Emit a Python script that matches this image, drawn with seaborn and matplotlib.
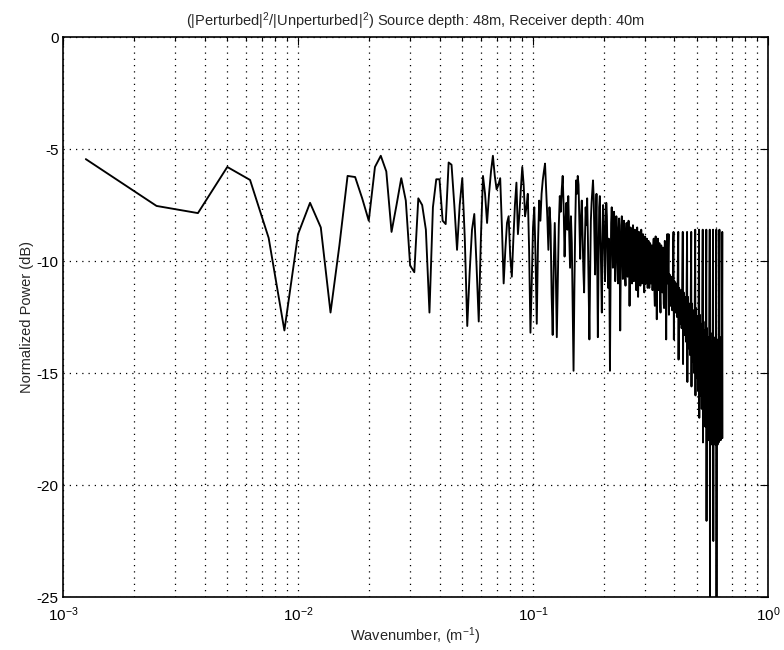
import matplotlib
matplotlib.use('Agg')
import matplotlib.pyplot as plt
import numpy as np
import pandas as pd
import seaborn as sns

# wavenumber grid step (m^-1), samples start at one step
dk = 1.25e-3

# normalized power (dB)
power_low = [
    -5.45, -7.54, -7.86, -5.80, -6.38, -8.97, -13.1, -8.8, -7.4, -8.5,
    -12.3, -9.3, -6.2, -6.25, -7.2, -8.2, -5.8, -5.3, -6.0, -8.7,
    -7.5, -6.3, -7.3, -10.2, -10.5, -7.2, -7.5, -8.6, -12.3, -7.6,
    -6.35, -6.35, -8.2, -8.35, -5.6, -5.7, -7.5, -9.5, -7.5, -6.3,
    -9.0, -12.9, -10.5, -8.6, -7.9, -10.2, -12.7, -9.0, -6.2, -7.0,
    -8.3, -7.0, -6.0, -5.3, -6.2, -6.8, -6.6, -6.3, -8.5, -11.0,
    -9.5, -8.3, -8.0, -9.8, -10.7, -9.0, -7.5, -6.5,
]
power_mid = [
    -8.8, -7.9, -6.8, -5.8, -6.6, -8.0, -7.6, -7.0, -9.5, -13.2,
    -11.0, -8.5, -7.6, -9.8, -12.8, -9.2, -7.3, -8.2, -7.0, -6.4,
    -6.0, -5.65, -6.8, -8.0, -9.5, -7.6, -8.4, -11.5, -13.3, -10.2,
    -8.3, -10.5, -13.4, -10.8, -8.4, -7.1, -7.8, -6.8, -6.2, -7.6,
    -9.8, -8.2, -7.4, -8.6, -7.1, -8.8, -10.3, -8.0, -9.2, -12.0,
    -14.9, -11.2, -8.4, -6.4, -7.0, -6.2, -6.6, -8.2, -9.9, -8.1,
    -7.3, -8.9, -10.4, -11.4, -9.1, -7.6, -8.4, -7.2, -9.0, -11.3,
    -13.5, -10.6, -8.2, -7.4, -6.9, -6.4,
]
power_band = [
    -7.2, -9.0, -10.6, -8.4, -7.0, -9.8, -13.4, -10.2, -7.6, -7.1, -8.9, -10.8, -12.3, -9.4, -7.5, -8.1,
    -9.6, -10.9, -8.7, -7.4, -8.0, -9.9, -11.2, -9.0, -10.6, -14.9, -11.0, -8.3, -7.6, -8.6, -10.3, -9.1, -7.8, -8.8, -10.9, -9.5,
    -8.0, -8.5, -10.2, -11.0, -9.0, -8.1, -9.6, -13.1, -10.4, -8.4, -8.0, -9.3, -10.8, -9.7, -8.2, -8.9, -10.5, -11.1, -9.2, -8.3,
    -9.4, -10.7, -9.5, -8.2, -9.8, -12.0, -10.3, -8.5, -8.6, -10.1, -11.0, -9.3, -8.4, -9.6, -10.9, -10.0, -8.6, -9.2, -10.6, -11.3,
    -9.5, -8.5, -9.4, -11.6, -10.2, -8.7, -9.1, -10.5, -11.1, -9.4, -8.6, -9.7, -11.0, -10.1, -8.8, -9.3, -10.8, -11.4, -9.8, -8.9,
    -9.6, -11.0, -10.3, -9.0, -9.5, -11.2, -10.4, -9.1, -9.8, -11.2, -10.6, -9.2, -9.6, -11.0, -10.5, -9.3, -9.9, -11.3, -10.7, -9.4,
    -9.0, -10.2, -11.5, -12.0, -10.1, -8.9, -9.7, -11.2, -12.6, -11.0, -9.4, -9.0, -10.3, -11.3, -10.0, -9.2, -10.4, -11.7, -12.3, -10.4,
    -9.3, -9.6, -10.9, -11.4, -10.1, -9.4, -10.5, -11.9, -12.1, -10.2, -9.1, -9.4, -10.8, -11.6, -13.5, -11.0, -9.2, -8.8, -9.6, -11.0,
]
power_comb = [
    -9.4, -8.8, -12.4, -11.2, -10.6, -11.5, -10.9, -12.0, -11.3, -10.7, -11.8, -11.0, -12.2, -11.4, -10.8,
    -9.2, -8.7, -13.5, -11.6, -10.9, -11.9, -11.2, -12.3, -11.5, -11.0, -12.1, -11.3, -12.5, -11.7, -11.1,
    -9.6, -8.7, -14.4, -12.0, -11.2, -12.4, -11.5, -12.8, -11.9, -11.3, -12.6, -11.7, -13.0, -12.1, -11.4,
    -9.8, -8.7, -14.6, -12.3, -11.4, -12.8, -11.8, -13.3, -12.2, -11.6, -13.1, -12.0, -13.6, -12.4, -11.7,
    -10.0, -8.7, -15.4, -12.7, -11.6, -13.2, -12.1, -13.9, -12.6, -11.9, -13.7, -12.4, -14.2, -12.8, -12.0,
    -10.1, -8.7, -15.6, -13.0, -11.9, -13.7, -12.4, -14.5, -13.0, -12.2, -14.3, -12.8, -15.0, -13.2, -12.3,
    -10.3, -8.6, -16.0, -13.4, -12.1, -14.2, -12.7, -15.2, -13.4, -12.5, -15.0, -13.2, -15.8, -13.6, -12.6,
    -10.4, -8.6, -17.0, -13.8, -12.4, -14.8, -13.0, -16.0, -13.9, -12.8, -15.8, -13.6, -16.6, -14.0, -12.9,
    -10.5, -8.6, -18.1, -14.3, -12.7, -15.4, -13.3, -16.8, -14.3, -13.1, -16.5, -14.0, -17.4, -14.4, -13.2,
    -10.6, -8.6, -21.6, -14.7, -13.0, -16.0, -13.6, -17.5, -14.8, -13.4, -17.2, -14.4, -18.0, -14.8, -13.5,
    -10.7, -8.6, -25.5, -15.0, -13.2, -16.5, -13.9, -18.0, -15.1, -13.6, -17.8, -14.7, -18.2, -15.1, -13.7,
    -10.8, -8.6, -22.5, -15.2, -13.4, -16.8, -14.1, -18.1, -15.3, -13.8, -17.9, -14.9, -18.2, -15.2, -13.8,
    -10.8, -8.6, -26.0, -15.3, -13.5, -17.0, -14.2, -18.2, -15.4, -13.9, -18.0, -15.0, -18.1, -15.3, -13.9,
    -10.9, -8.6, -17.9, -15.1, -13.4, -16.8, -14.1, -18.0, -15.2, -13.8, -17.6, -14.8, -17.9, -15.0, -13.7,
    -8.7, -17.9,
]

power = power_low + power_mid + power_band + power_comb
df = pd.DataFrame({'k': dk * np.arange(1, len(power) + 1), 'db': power})

sns.set_style('white')
plt.rcParams['font.family'] = ['Liberation Sans', 'DejaVu Sans']
plt.rcParams['mathtext.fontset'] = 'custom'
plt.rcParams['mathtext.rm'] = 'Liberation Sans'
plt.rcParams['mathtext.it'] = 'Liberation Sans:italic'
plt.rcParams['axes.unicode_minus'] = False

fig = plt.figure(figsize=(7.84, 6.5), dpi=100)
ax = fig.add_axes([0.0804, 0.0815, 0.8992, 0.8615])

sns.lineplot(data=df, x='k', y='db', color='black', lw=1.35,
             estimator=None, sort=False, ax=ax)

ax.set_xscale('log')
ax.set_xlim(1e-3, 1)
ax.set_ylim(-25, 0)
ax.set_yticks([0, -5, -10, -15, -20, -25])

ax.grid(True, which='both', axis='x', color='black', linestyle=(0, (1, 4)), lw=0.9)
ax.grid(True, which='major', axis='y', color='black', linestyle=(0, (1, 4)), lw=0.9)

for s in ax.spines.values():
    s.set_color('black')
    s.set_linewidth(1.2)
ax.tick_params(which='both', direction='in', top=True, right=True, colors='black',
               labelsize=11)
ax.tick_params(which='major', length=6, width=0.8)
ax.tick_params(which='minor', length=3, width=0.8)
ax.tick_params(axis='x', which='both', pad=6)
ax.tick_params(axis='y', which='both', pad=3)

ax.set_title('(|Perturbed|$^2$/|Unperturbed|$^2$) Source depth: 48m, Receiver depth: 40m',
             fontsize=10.5, pad=8)
ax.set_xlabel('Wavenumber, (m$^{-1}$)', fontsize=10.5, labelpad=1)
ax.set_ylabel('Normalized Power (dB)', fontsize=10.5, labelpad=2)

plt.savefig('out.png', dpi=100)
